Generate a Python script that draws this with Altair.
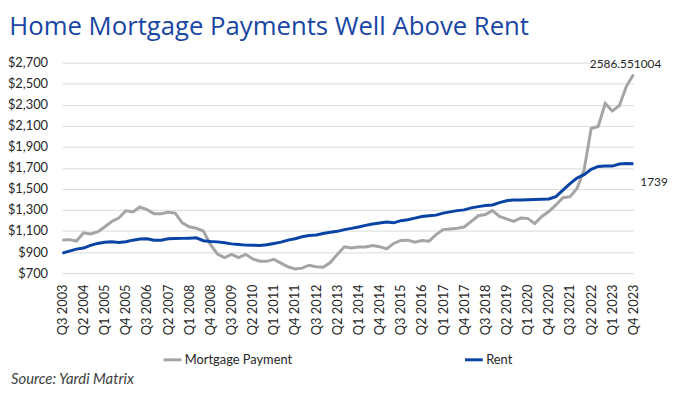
import altair as alt
import pandas as pd

quarters = [f"Q{q} {y}" for y in range(2003, 2024) for q in range(1, 5)][2:]

mortgage = [1015, 1018, 1005, 1082, 1072, 1091, 1138, 1190, 1223, 1292,
            1282, 1328, 1303, 1265, 1265, 1278, 1270, 1178, 1140, 1126,
            1100, 972, 880, 848, 878, 848, 878, 835, 813, 812,
            831, 795, 760, 740, 747, 775, 760, 755, 800, 878,
            950, 938, 948, 948, 963, 951, 931, 982, 1010, 1013,
            994, 1010, 1003, 1066, 1113, 1120, 1126, 1138, 1191, 1245,
            1257, 1294, 1238, 1216, 1191, 1223, 1220, 1170, 1238, 1285,
            1348, 1417, 1426, 1505, 1680, 2074, 2093, 2312, 2240, 2293,
            2475, 2586.551004]

rent = [890, 909, 928, 938, 963, 982, 994, 998, 990, 998,
        1013, 1024, 1026, 1012, 1013, 1026, 1029, 1030, 1032, 1035,
        1008, 1000, 997, 988, 978, 972, 966, 965, 963, 969,
        982, 994, 1013, 1026, 1045, 1057, 1063, 1076, 1088, 1097,
        1113, 1125, 1138, 1154, 1167, 1176, 1185, 1178, 1198, 1207,
        1223, 1238, 1245, 1251, 1270, 1282, 1294, 1301, 1320, 1332,
        1342, 1348, 1370, 1388, 1395, 1395, 1398, 1400, 1402, 1404,
        1426, 1488, 1551, 1604, 1636, 1686, 1714, 1717, 1717, 1736,
        1742, 1739]

series_names = ["Mortgage Payment", "Rent"]
series_colors = ["#A5A5A5", "#0A43A6"]
y_ticks = list(range(700, 2701, 200))

n = len(quarters)
df = pd.DataFrame({
    "quarter": quarters * 2,
    "series": [series_names[0]] * n + [series_names[1]] * n,
    "value": mortgage + rent,
    "idx": list(range(n)) * 2,
    "label": [str(v) for v in mortgage] + [str(v) for v in rent],
})

FONT = "Lato"

x_enc = alt.X("quarter:N", sort=quarters,
              scale=alt.Scale(type="point", padding=0),
              axis=alt.Axis(values=quarters[::3], labelAngle=270, title=None,
                            labelPadding=11, ticks=False, domain=False, grid=False,
                            labelFont=FONT, labelFontSize=13, labelColor="#262626"))
y_enc = alt.Y("value:Q", scale=alt.Scale(domain=[700, 2700], nice=False, zero=False),
              axis=alt.Axis(values=y_ticks, format="$,.0f", title=None, labelPadding=15,
                            ticks=False, domain=False, gridColor="#D9D9D9",
                            labelFont=FONT, labelFontSize=13, labelColor="#262626"))

base = alt.Chart(df)

lines = base.mark_line(strokeWidth=3).encode(
    x=x_enc, y=y_enc,
    color=alt.Color("series:N",
                    scale=alt.Scale(domain=series_names, range=series_colors),
                    legend=alt.Legend(title=None, orient="none", legendX=101, legendY=290,
                                      direction="horizontal", symbolType="stroke",
                                      symbolSize=324, symbolStrokeWidth=3,
                                      labelFont=FONT, labelFontSize=13, labelColor="#262626",
                                      labelOffset=2, columnPadding=168)),
)

mort_label = base.transform_filter(
    (alt.datum.idx == n - 1) & (alt.datum.series == series_names[0])
).mark_text(dx=-8, dy=-11, align="center", font=FONT, fontSize=12, color="#262626").encode(
    x=x_enc, y=y_enc, text="label:N")

rent_label = base.transform_filter(
    (alt.datum.idx == n - 1) & (alt.datum.series == series_names[1])
).mark_text(dx=7, dy=18, align="left", font=FONT, fontSize=12, color="#262626").encode(
    x=x_enc, y=y_enc, text="label:N")

source = alt.Chart(pd.DataFrame({"t": ["Source: Yardi Matrix"]})).mark_text(
    align="left", baseline="alphabetic", font=FONT, fontSize=15, fontStyle="italic",
    color="#404040").encode(x=alt.value(-52), y=alt.value(325), text="t:N")

chart = alt.layer(lines, mort_label, rent_label, source).properties(
    width=578, height=213,
    autosize=alt.AutoSizeParams(type="none"),
    padding={"left": 55, "top": 53, "right": 38, "bottom": 116},
    title=alt.TitleParams("Home Mortgage Payments Well Above Rent", anchor="start",
                          dx=2, offset=17, font="Open Sans", fontSize=26,
                          fontWeight="normal", color="#1846A3"),
).configure_view(stroke=None)

chart.save("out.html", embed_options={"renderer": "svg", "actions": False})
